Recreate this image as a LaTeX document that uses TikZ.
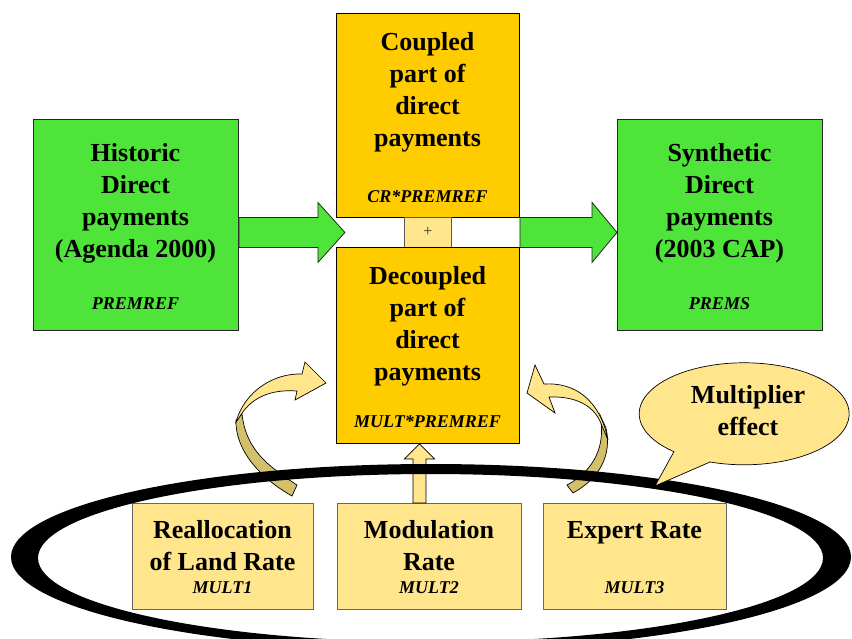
\documentclass[tikz,border=0pt]{standalone}
\usepackage{fontspec}
\setmainfont{Liberation Serif}
\usetikzlibrary{calc}
\definecolor{leaf}{RGB}{78,228,58}
\definecolor{gold}{RGB}{255,204,0}
\definecolor{pale}{RGB}{255,230,140}
\definecolor{tanback}{RGB}{212,192,106}
\begin{document}
\begin{tikzpicture}[x=1pt,y=-1pt,
  box/.style={draw=black, line width=0.9pt, inner sep=0pt, anchor=north west},
  greenbox/.style={box, fill=leaf, draw=black!85},
  goldbox/.style={box, fill=gold},
  palebox/.style={box, fill=pale, draw=black!60},
  % anchored at the baseline of the last line
  title/.style={font=\fontsize{26}{32}\selectfont\bfseries, align=center, anchor=base, inner sep=0pt},
  varname/.style={font=\fontsize{18}{22}\selectfont\bfseries\itshape, anchor=base, inner sep=0pt},
  fatarrow/.style={fill=leaf, draw=black!85, line width=0.8pt, line join=miter},
  palearrow/.style={fill=pale, draw=black, line width=0.7pt, line join=miter},
  backarrow/.style={fill=tanback, draw=black, line width=0.7pt, line join=miter},
]
\useasboundingbox (0,0) rectangle (852,638);
\clip (0,0) rectangle (852,638);

% boxes
\node[greenbox, minimum width=205pt, minimum height=211pt] (hist) at (33,119) {};
\node[greenbox, minimum width=205pt, minimum height=211pt] (synth) at (617,119) {};
\node[goldbox, minimum width=183pt, minimum height=204pt] (coup) at (336,13) {};
\node[box, fill=pale, draw=black!65, minimum width=47pt, minimum height=30pt] (plusbox) at (404,217) {};
\node[goldbox, minimum width=183pt, minimum height=196pt] (decoup) at (336,247) {};
\node[palebox, minimum width=181pt, minimum height=106pt] (realloc) at (132,503) {};
\node[palebox, minimum width=184pt, minimum height=106pt] (modu) at (337,503) {};
\node[palebox, minimum width=183pt, minimum height=106pt] (expert) at (543,503) {};

% box texts
\node[title] (histtxt) at (135.5,257) {Historic\\Direct\\payments\\(Agenda 2000)};
\node[varname] (histvar) at (135.5,309) {PREMREF};
\node[title] (synthtxt) at (719.5,257) {Synthetic\\Direct\\payments\\(2003 CAP)};
\node[varname] (synthvar) at (719.5,309) {PREMS};
\node[title] (couptxt) at (427.5,146) {Coupled\\part of\\direct\\payments};
\node[varname] (coupvar) at (427.5,202) {CR*PREMREF};
\node[title] (decouptxt) at (427.5,380) {Decoupled\\part of\\direct\\payments};
\node[varname] (decoupvar) at (427.5,427) {MULT*PREMREF};
\node[font=\fontsize{16}{18}\selectfont, text=black!80, inner sep=0pt] (plustxt) at (plusbox.center) {+};
\node[title] (realloctxt) at (222.5,570) {Reallocation\\of Land Rate};
\node[varname] (reallocvar) at (222.5,593) {MULT1};
\node[title] (modutxt) at (429,570) {Modulation\\Rate};
\node[varname] (moduvar) at (429,593) {MULT2};
\node[title] (experttxt) at (634.5,538) {Expert Rate};
\node[varname] (expertvar) at (634.5,593) {MULT3};

% block arrows between the payment boxes
\coordinate (la) at (hist.east |- plusbox.center);
\draw[fatarrow] ($(la)+(0,-15)$) -- ($(la)+(79,-15)$) -- ($(la)+(79,-30)$)
  -- ($(la)+(106,0)$) -- ($(la)+(79,30)$) -- ($(la)+(79,15)$) -- ($(la)+(0,15)$) -- cycle;
\coordinate (ra) at (coup.east |- plusbox.center);
\coordinate (rtip) at (synth.west |- plusbox.center);
\draw[fatarrow] ($(ra)+(0,-15)$) -- ($(rtip)+(-25,-15)$) -- ($(rtip)+(-25,-30)$)
  -- (rtip) -- ($(rtip)+(-25,30)$) -- ($(rtip)+(-25,15)$) -- ($(ra)+(0,15)$) -- cycle;

% upward arrow from the modulation rate
\coordinate (upbase) at ($(modu.north)+(-10,0)$);
\coordinate (uptip) at (upbase |- decoup.south);
\draw[palearrow] ($(upbase)+(-6.5,0)$) -- ($(uptip)+(-6.5,15)$) -- ($(uptip)+(-15,15)$)
  -- (uptip) -- ($(uptip)+(15,15)$) -- ($(uptip)+(6.5,15)$) -- ($(upbase)+(6.5,0)$) -- cycle;

% left curved ribbon arrow
\draw[backarrow] (236,420) .. controls (235,450) and (260,478) .. (292,496)
  -- (297,485) .. controls (268,466) and (246,450) .. (242,414) -- cycle;
\draw[palearrow] (326,383) -- (305,362) -- (302,374)
  .. controls (275,373) and (245,390) .. (236,422)
  -- (239,418) .. controls (250,398) and (270,389) .. (297,391)
  -- (295,400) -- cycle;

% right curved ribbon arrow
\draw[backarrow] (600,415) .. controls (606,445) and (595,470) .. (567,485)
  -- (573,493) .. controls (600,478) and (612,455) .. (606,428) -- cycle;
\draw[palearrow] (527,393) -- (535,365) -- (544,384)
  .. controls (575,382) and (600,400) .. (608,440)
  -- (602,426) .. controls (595,405) and (575,396) .. (549,397)
  -- (555,413) -- cycle;

% thick ring around the three rates
\fill[black, even odd rule] (431,557) ellipse [x radius=420, y radius=93]
  (430.5,558) ellipse [x radius=392.5, y radius=84];

% speech bubble
\draw[fill=pale, draw=black, line width=0.7pt] (655,486) -- (710,462)
  arc[start angle=109, end angle=-228, x radius=105, y radius=51] -- cycle;
\node[title] (bubbletxt) at (748,435) {Multiplier\\effect};
\end{tikzpicture}
\end{document}
